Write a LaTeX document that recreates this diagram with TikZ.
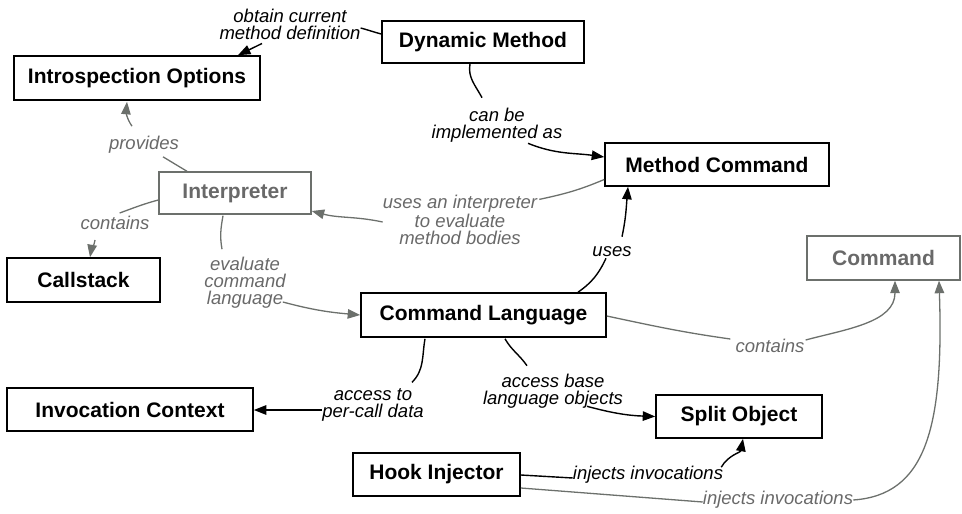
\documentclass[tikz,border=0pt]{standalone}
\usepackage{fontspec}
\setmainfont{Liberation Sans}
\usetikzlibrary{arrows.meta,calc}

\definecolor{edgegray}{RGB}{108,112,108}
\definecolor{textgray}{RGB}{105,105,105}

\tikzset{
  concept/.style={draw=black, line width=1.6pt, fill=white, inner sep=0pt,
    font=\bfseries\fontsize{21}{24}\selectfont, text=black},
  ghost/.style={concept, draw=edgegray, line width=1.4pt, text=textgray},
  lbl/.style={inner sep=0pt, align=center,
    font=\itshape\fontsize{18.5}{17}\selectfont, text=black},
  glbl/.style={lbl, text=textgray},
  link/.style={draw=black, line width=1.4pt},
  glink/.style={draw=edgegray, line width=1.3pt},
  tip/.style={-{Triangle[length=12.5pt,width=9.5pt]}},
}

\begin{document}
\begin{tikzpicture}[x=1pt,y=-1pt]
\useasboundingbox (0,0) rectangle (962,514);

% concepts
\node[concept, minimum width=246pt, minimum height=44pt] (IO)  at (137,78)    {Introspection Options};
\node[concept, minimum width=202pt, minimum height=42pt] (DM)  at (483,42)    {Dynamic Method};
\node[concept, minimum width=224pt, minimum height=43pt] (MC)  at (717,164.5) {Method Command};
\node[ghost,   minimum width=152pt, minimum height=42pt] (IP)  at (235,193)   {Interpreter};
\node[ghost,   minimum width=153pt, minimum height=44pt] (CMD) at (883.5,258) {Command};
\node[concept, minimum width=153pt, minimum height=44pt] (CS)  at (83.5,280)  {Callstack};
\node[concept, minimum width=245pt, minimum height=44pt] (CL)  at (483.5,315) {Command Language};
\node[concept, minimum width=246pt, minimum height=43pt] (IC)  at (130,409.5) {Invocation Context};
\node[concept, minimum width=166pt, minimum height=43pt] (SO)  at (739,416.5) {Split Object};
\node[concept, minimum width=167pt, minimum height=43pt] (HI)  at (436.5,474.5) {Hook Injector};

% relation labels
\node[lbl]  (l1)  at (290,24)  {obtain current\\method definition};
\node[lbl]  (l2)  at (497,125) {can be\\implemented as};
\node[glbl] (l3)  at (144,145) {provides};
\node[glbl] (l4)  at (460,220) {uses an interpreter\\to evaluate\\method bodies};
\node[glbl] (l5)  at (115,223) {contains};
\node[glbl] (l6)  at (245,283) {evaluate\\command\\language};
\node[lbl]  (l7)  at (612,252) {uses};
\node[glbl] (l8)  at (770,346) {contains};
\node[lbl]  (l9)  at (373,405) {access to\\per-call data};
\node[lbl]  (l10) at (553,391) {access base\\language objects};
\node[lbl]  (l11) at (648,475) {injects invocations};
\node[glbl] (l12) at (778,500) {injects invocations};

% Dynamic Method -> Introspection Options
\draw[link] ($(DM.west)+(0,-8)$) to[out=165,in=-15] ($(l1.east)+(0,4)$);
\draw[link,tip] ($(l1.south)+(-28,4)$) -- ($(IO.north)+(101,0)$);

% Dynamic Method -> Method Command
\draw[link] ($(DM.south)+(-13,0)$) to[out=-100,in=118] ($(l2.north)+(-15,-10)$);
\draw[link,tip] ($(l2.south)+(31,1)$) to[out=-22,in=172] ($(MC.west)+(0,-7.5)$);

% Interpreter -> Introspection Options
\draw[glink] ($(IP.north)+(-48,0)$) -- ($(l3.south)+(19,3)$);
\draw[glink,tip] ($(l3.north)+(-12,-10)$) to[out=125,in=-95] ($(IO.south)+(-10,1)$);

% Method Command -> Interpreter
\draw[glink] ($(MC.west)+(0,15)$) to[out=203,in=12] ($(l4.north east)+(2,4)$);
\draw[glink,tip] ($(l4.west)+(0,2)$) to[out=168,in=-15] ($(IP.east)+(0,18)$);

% Interpreter -> Callstack
\draw[glink] ($(IP.west)+(0,7)$) to[out=195,in=20] ($(l5.north east)+(-30,-3)$);
\draw[glink,tip] ($(l5.south)+(-20,10)$) to[out=-100,in=80] ($(CS.north)+(6.5,0)$);

% Interpreter -> Command Language
\draw[glink] ($(IP.south)+(-12,1)$) to[out=-100,in=100] ($(l6.north)+(-23,-8)$);
\draw[glink,tip] ($(l6.east)+(-3,19)$) to[out=-15,in=175] (CL.west);

% Command Language -> Method Command
\draw[link] ($(CL.north)+(94.5,0)$) to[out=35,in=-115] ($(l7.south)+(-6,1)$);
\draw[link,tip] ($(l7.north)+(10,-10)$) to[out=78,in=-95] ($(MC.south)+(-89,0)$);

% Command Language -> Command
\draw[glink] ($(CL.east)+(0,1)$) to[out=-12,in=172] ($(l8.west)+(-5,-7)$);
\draw[glink,tip] ($(l8.east)+(1,-6)$) to[out=15,in=-90] ($(CMD.south)+(11.5,0)$);

% Command Language -> Invocation Context
\draw[link] ($(CL.south)+(-58.5,1)$) to[out=-100,in=45] ($(l9.north east)+(-12,-6)$);
\draw[link,tip] ($(l9.west)+(0,5)$) -- ($(IC.east)+(0,0.5)$);

% Command Language -> Split Object
\draw[link] ($(CL.south)+(21.5,1)$) to[out=-60,in=125] ($(l10.north)+(-26,-8)$);
\draw[link,tip] ($(l10.south)+(34,-2)$) to[out=-15,in=178] (SO.west);

% Hook Injector -> Split Object
\draw[link] ($(HI.east)+(0,0.5)$) -- ($(l11.west)+(0,3)$);
\draw[link,tip] ($(l11.north east)+(-2,1)$) to[out=60,in=-100] ($(SO.south)+(4,0)$);

% Hook Injector -> Command
\draw[glink] ($(HI.east)+(0,13.5)$) -- ($(l12.west)+(0,2)$);
\draw[glink,tip] (l12.east) .. controls (925,495) and (944,430) .. ($(CMD.south)+(55.5,0)$);
\end{tikzpicture}
\end{document}
